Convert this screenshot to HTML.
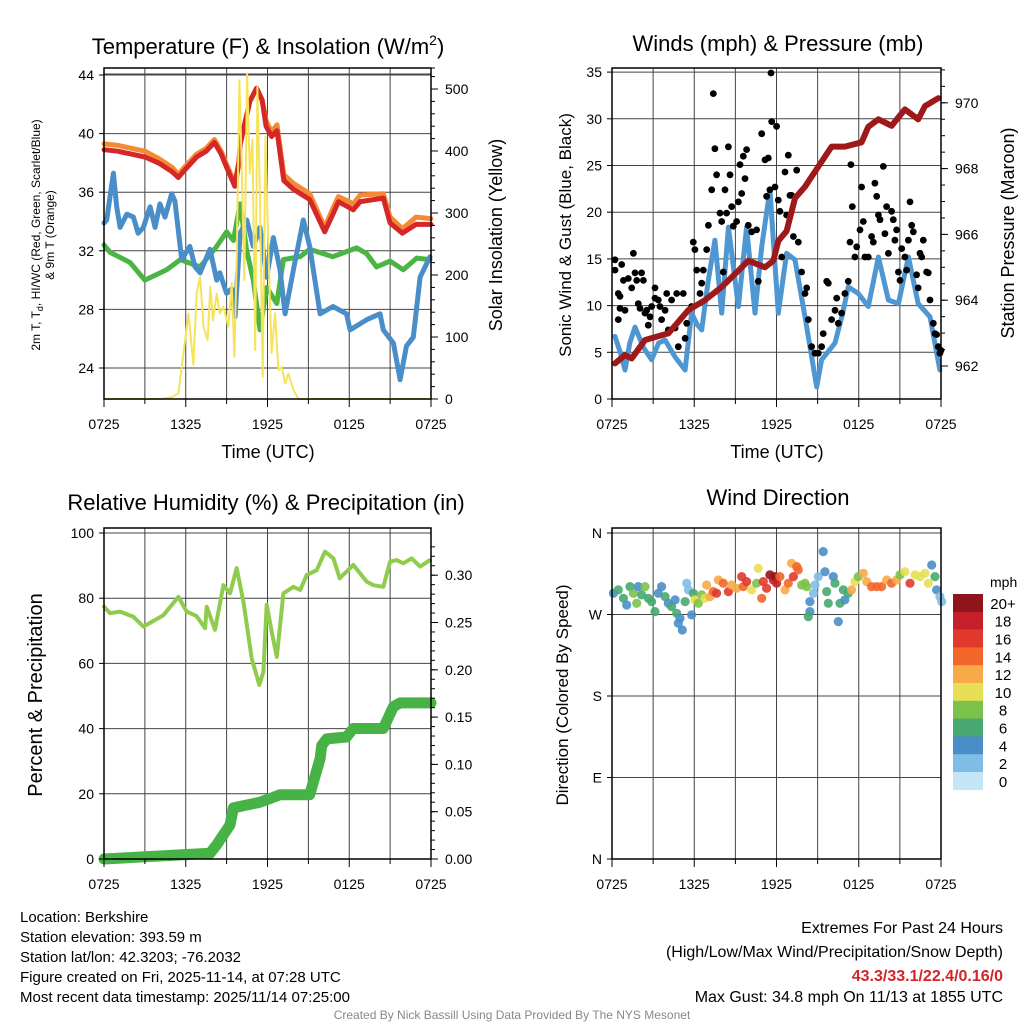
<!DOCTYPE html>
<html><head><meta charset="utf-8"><style>
html,body{margin:0;padding:0;background:#fff;}
svg{display:block;font-family:"Liberation Sans",Arial,sans-serif;}
</style></head><body>
<svg id="chart" xmlns="http://www.w3.org/2000/svg" width="1024" height="1024" viewBox="0 0 1024 1024">
<rect x="0" y="0" width="1024" height="1024" fill="#fff"/>
<g id="grid"></g>
<g id="marks"></g>
<g id="axes"></g>
<!-- Titles -->
<text x="268" y="54" font-size="22" text-anchor="middle">Temperature (F) &amp; Insolation (W/m<tspan font-size="14" dy="-9">2</tspan><tspan dy="9">)</tspan></text>
<text x="778" y="51" font-size="22" text-anchor="middle">Winds (mph) &amp; Pressure (mb)</text>
<text x="266" y="510" font-size="22" text-anchor="middle">Relative Humidity (%) &amp; Precipitation (in)</text>
<text x="778" y="505" font-size="22" text-anchor="middle">Wind Direction</text>
<!-- axis titles -->
<text x="268" y="458" font-size="18" text-anchor="middle">Time (UTC)</text>
<text x="777" y="458" font-size="18" text-anchor="middle">Time (UTC)</text>
<text transform="translate(40,235) rotate(-90)" font-size="12" text-anchor="middle">2m T, T<tspan font-size="9" dy="3">d</tspan><tspan dy="-3">, HI/WC (Red, Green, Scarlet/Blue)</tspan></text>
<text transform="translate(54,235) rotate(-90)" font-size="12" text-anchor="middle">&amp; 9m T (Orange)</text>
<text transform="translate(502,235) rotate(-90)" font-size="18" text-anchor="middle">Solar Insolation (Yellow)</text>
<text transform="translate(571,235) rotate(-90)" font-size="17" text-anchor="middle">Sonic Wind &amp; Gust (Blue, Black)</text>
<text transform="translate(1014,233) rotate(-90)" font-size="18" text-anchor="middle">Station Pressure (Maroon)</text>
<text transform="translate(42,695) rotate(-90)" font-size="20" text-anchor="middle">Percent &amp; Precipitation</text>
<text transform="translate(568,695) rotate(-90)" font-size="17" text-anchor="middle">Direction (Colored By Speed)</text>
<!-- colorbar -->
<g id="colorbar"></g>
<text x="990" y="587" font-size="14">mph</text>
<!-- footer -->
<g font-size="15">
<text x="20" y="922">Location: Berkshire</text>
<text x="20" y="942">Station elevation: 393.59 m</text>
<text x="20" y="962">Station lat/lon: 42.3203; -76.2032</text>
<text x="20" y="982">Figure created on Fri, 2025-11-14, at 07:28 UTC</text>
<text x="20" y="1002">Most recent data timestamp: 2025/11/14 07:25:00</text>
</g>
<g font-size="16" text-anchor="end">
<text x="1003" y="933">Extremes For Past 24 Hours</text>
<text x="1003" y="957">(High/Low/Max Wind/Precipitation/Snow Depth)</text>
<text x="1003" y="981" fill="#d0262b" font-weight="bold">43.3/33.1/22.4/0.16/0</text>
<text x="1003" y="1002">Max Gust: 34.8 mph On 11/13 at 1855 UTC</text>
</g>
<text x="512" y="1019" font-size="12" fill="#888" text-anchor="middle">Created By Nick Bassill Using Data Provided By The NYS Mesonet</text>
</svg>
<script>
// ---------- data ----------
const timeTickLabels = ["0725","1325","1925","0125","0725"];
const tempTicks = [24,28,32,36,40,44];
const solarTicks = [0,100,200,300,400,500];
const windTicks = [0,5,10,15,20,25,30,35];
const pressTicks = [962,964,966,968,970];
const rhTicks = [0,20,40,60,80,100];
const precipTicks = [0,0.05,0.10,0.15,0.20,0.25,0.30];
const dirTicks = [0,90,180,270,360];
const dirTickLabels = ["N","E","S","W","N"];
const speedBins = ["0","2","4","6","8","10","12","14","16","18","20+"];
const speedColors = ["#c4e5f6","#7fbde6","#4a8ec9","#47a870","#7cc24a","#e6df55","#f9aa48","#f2662a","#e13a2c","#c51f29","#90141b"];

const redT = [0,1,2,3,4,5,5.45,6,6.8,7.5,8.1,8.6,9.0,9.6,9.9,10.0,10.7,11.2,11.6,11.9,12.3,12.7,13.2,13.9,15.1,16.2,16.8,17.2,17.9,18.3,18.8,20.5,21.0,21.9,22.9,24];
const redV = [38.9,38.8,38.6,38.4,38.0,37.4,37.0,37.6,38.4,38.8,39.4,38.6,37.7,36.4,38.0,39.3,42.2,43.1,42.3,40.5,39.8,40.2,36.8,36.2,35.5,33.3,34.5,35.35,35.0,34.8,35.35,35.6,33.9,33.2,33.8,33.8];
const orangeV = [39.3,39.2,39.0,38.8,38.3,37.7,37.2,37.8,38.6,39.0,39.6,38.8,37.9,36.6,38.1,39.4,42.2,43.1,42.3,40.9,40.1,40.6,37.2,36.6,35.9,33.6,34.9,35.7,35.4,35.2,35.8,35.9,34.3,33.5,34.3,34.2];
const greenT = [0,0.44,1.91,3.0,4.6,5.6,7.05,8.27,9.0,9.5,9.99,10.47,10.96,11.45,11.94,12.68,13.17,14.4,15.1,16.8,18.55,19.28,20.0,21.0,21.97,22.95,23.93];
const greenV = [32.4,31.9,31.2,30.0,30.7,31.4,30.9,32.3,33.3,32.7,35.2,32.0,30.0,26.6,29.5,28.4,31.4,31.6,32.1,31.6,32.2,31.8,30.9,31.3,30.7,31.5,31.4];
const blueT = [0,0.2,0.69,0.93,1.18,1.67,2.16,2.5,2.89,3.38,3.75,4.1,4.48,4.97,5.2,5.7,6.3,6.68,7.05,7.78,8.27,8.5,9.0,9.37,9.62,9.99,10.47,10.96,11.45,11.94,12.43,12.92,13.29,13.9,14.63,15.1,15.86,16.8,17.8,18.06,19.28,20.26,20.5,21.24,21.73,22.2,22.7,23.2,23.93];
const blueV = [33.9,34.1,37.3,35.0,33.6,34.5,34.3,33.2,33.6,35.0,33.6,35.2,34.3,35.9,35.4,31.4,32.3,30.9,30.5,32.1,30.0,30.5,29.1,29.4,27.5,33.2,34.1,32.3,33.6,30.2,32.9,30.7,27.7,30.7,34.1,32.3,27.7,28.2,27.7,26.6,27.3,27.7,26.6,25.7,23.2,25.5,26.1,30.2,31.6];
const solarT = [0,4.2,5.0,5.46,5.8,6.2,6.56,6.8,7.05,7.3,7.6,7.8,8.0,8.27,8.5,8.76,9.13,9.37,9.57,9.74,9.94,10.1,10.3,10.5,10.7,10.9,11.1,11.26,11.45,11.65,11.85,12.06,12.3,12.55,12.8,13.04,13.3,13.53,13.9,14.27,24];
const solarV = [0,0,3,9,68,138,55,170,197,117,95,181,127,170,138,149,117,187,68,224,514,385,192,525,364,418,79,503,321,36,423,246,74,138,47,52,25,41,15,0,0];

const windT = [0.22,0.6,0.95,1.3,1.68,2.3,2.89,3.4,3.87,4.6,5.33,5.81,6.2,6.54,7.0,7.51,8.0,8.49,9.22,9.82,10.43,10.92,11.52,12.13,12.74,13.35,14.08,14.93,15.29,16.27,16.8,17.24,17.97,18.7,19.43,20.16,20.89,21.62,22.34,23.2,23.92];
const windV = [6.7,5.0,3.1,6.0,7.7,5.5,4.2,6.0,6.3,4.5,3.1,9.2,8.0,7.4,12.5,17.0,9.2,18.4,9.9,18.4,9.2,16.3,22.4,9.2,15.6,14.9,8.8,1.3,4.2,6.0,9.0,12.0,11.3,9.9,15.2,10.6,10.2,15.2,10.2,8.8,3.1];
const pressT = [0.22,0.95,1.44,2.41,4.11,5.57,6.78,8.0,9.22,9.94,11.16,11.77,12.13,12.74,13.35,14.08,15.05,16.02,16.99,18.21,18.7,19.43,20.4,21.37,22.34,22.83,23.8];
const pressV = [962.08,962.33,962.23,962.79,962.99,963.7,964.0,964.4,964.9,965.2,965.0,965.2,965.8,966.1,967.1,967.45,968.06,968.67,968.67,968.8,969.27,969.5,969.3,969.8,969.5,969.9,970.14];
const gustT = [0.22,0.22,0.46,0.58,0.71,0.46,0.58,0.95,0.83,1.19,1.44,1.56,1.68,1.8,1.92,2.04,2.16,2.29,2.41,2.53,2.65,2.77,2.89,3.14,3.14,3.38,3.5,3.62,3.87,3.99,4.11,4.35,4.6,4.72,4.84,5.2,5.33,5.45,5.81,5.93,6.05,6.18,6.42,6.54,6.66,6.91,7.03,7.27,7.39,7.51,7.63,7.88,8.0,8.12,8.24,8.36,8.49,8.61,8.73,8.85,9.09,9.22,9.34,9.46,9.58,9.7,9.82,9.94,10.19,10.55,10.67,10.92,11.16,11.28,11.4,11.52,11.6,11.65,11.89,12.01,12.13,12.25,12.38,12.62,12.74,12.86,12.98,13.1,13.23,13.47,13.59,13.83,14.08,14.2,14.32,14.56,14.81,15.05,15.29,15.41,15.66,15.78,16.02,16.27,16.39,16.51,16.75,16.99,17.24,17.36,17.43,17.53,17.72,17.85,18.09,18.21,18.33,18.45,18.7,18.94,19.06,19.18,19.31,19.43,19.55,19.79,19.91,20.03,20.16,20.4,20.52,20.64,20.76,20.89,21.01,21.13,21.37,21.49,21.62,21.74,21.86,21.98,22.22,22.34,22.47,22.59,22.71,22.95,23.07,23.2,23.44,23.56,23.68,23.8,23.92,24.0];
const gustV = [14.9,13.8,11.3,9.7,14.4,8.5,11.0,9.5,12.7,12.9,11.9,15.6,13.5,12.7,10.2,9.7,13.5,12.7,9.2,9.5,7.9,8.8,9.9,11.9,10.8,10.6,9.9,8.5,9.5,11.3,7.4,10.6,7.6,11.3,5.6,11.3,6.5,8.1,9.9,16.8,16.0,13.8,11.3,12.4,13.8,16.0,18.6,22.4,32.7,26.8,24.0,19.9,19.0,13.6,22.4,19.9,27.0,24.0,20.6,18.5,19.0,21.1,25.1,22.0,26.0,23.6,26.7,18.6,17.9,18.1,12.6,28.4,25.6,21.7,25.8,22.4,34.9,29.7,22.7,29.2,21.3,20.1,15.2,24.3,19.7,26.1,21.8,21.8,17.4,24.5,16.8,13.6,11.3,11.9,8.5,5.6,4.9,4.9,5.6,7.0,12.6,12.4,8.5,9.5,10.8,8.1,9.2,11.3,12.6,16.8,25.1,20.6,15.2,16.3,18.1,22.7,19.0,15.2,15.2,17.4,16.8,23.1,21.7,19.7,19.2,24.9,17.7,20.6,15.6,20.1,19.2,17.0,18.1,13.6,12.7,16.1,15.2,13.8,17.0,21.1,18.6,17.9,13.3,11.9,15.6,15.2,17.0,13.6,13.5,10.6,8.1,7.0,6.9,5.6,4.9,5.2];

const rhT = [0,0.44,1.18,2.16,2.89,4.36,5.46,6.07,6.8,7.42,7.54,8.15,8.76,9.25,9.74,10.23,10.84,11.4,11.7,11.94,12.31,12.68,13.17,13.9,14.4,14.88,15.61,16.22,16.84,17.3,18.3,19.28,19.77,20.5,21.0,21.48,21.97,22.58,23.2,23.93];
const rhV = [77.4,75.4,75.9,74.3,71.3,74.8,80.4,75.9,74.5,70.8,77.4,70.3,84.0,81.5,89.2,79.0,61.5,53.4,57.4,78.0,69.7,62.0,81.5,83.5,82.5,87.1,88.6,94.3,92.2,86.1,90.2,85.1,84.0,83.5,91.2,91.7,90.7,92.2,89.7,91.7];
const precipT = [0,5.09,7.78,8.27,9.25,9.5,11.45,12.2,12.92,15.1,15.86,15.98,16.35,17.8,18.3,20.5,21.24,21.73,24];
const precipV = [0,0.004,0.006,0.015,0.036,0.054,0.060,0.064,0.068,0.068,0.106,0.12,0.127,0.129,0.138,0.138,0.161,0.165,0.165];

const dirT = [0.1,0.46,0.83,1.07,1.31,1.56,1.8,1.92,2.16,2.41,2.65,2.89,3.14,3.38,3.62,3.87,4.11,4.35,4.6,4.72,4.96,4.84,5.13,5.33,5.45,5.57,5.81,5.93,6.05,6.3,6.54,6.78,6.91,7.15,7.39,7.63,7.76,8.12,8.49,8.73,9.09,9.46,9.58,9.82,10.19,10.55,10.67,10.92,11.04,11.28,11.52,11.77,11.89,12.01,12.25,12.62,12.86,13.1,13.23,13.47,13.59,13.83,14.08,14.2,14.44,14.69,14.44,14.32,14.81,15.05,15.41,15.54,15.66,15.78,16.14,16.27,16.51,16.63,16.87,16.99,17.24,17.48,17.72,17.97,18.33,18.58,18.94,19.31,19.67,20.03,20.4,20.76,21.01,21.37,21.74,22.1,22.47,22.83,23.07,23.32,23.56,23.68,23.92,24.05];
const dirV = [293.4,297.1,287.9,280.5,300.8,293.4,282.4,300.8,291.6,300.8,287.9,284.2,273.2,293.4,300.8,289.7,282.4,278.7,286.1,271.3,265.8,260.3,252.9,284.2,304.5,297.1,269.5,293.4,286.1,282.4,291.6,287.9,302.6,289.7,295.3,293.4,308.1,304.5,295.3,302.6,298.9,311.8,300.8,306.3,297.1,304.5,321.0,287.9,306.3,298.9,313.7,308.1,311.8,304.5,311.8,297.1,304.5,326.5,311.8,322.9,319.2,302.6,304.5,300.8,284.2,293.4,273.2,267.6,302.6,311.8,339.4,317.3,295.3,282.4,311.8,304.5,262.1,282.4,297.1,286.1,293.4,297.1,306.3,311.8,315.5,306.3,300.8,300.8,300.8,308.1,304.5,308.1,313.7,317.3,304.5,313.7,311.8,315.5,304.5,324.7,311.8,297.1,289.7,284.2];
const dirSpeed = [4,6,6,4,6,8,8,4,6,8,6,6,6,4,4,6,4,6,4,6,4,4,4,6,2,2,4,6,10,8,8,10,12,12,14,16,12,14,16,12,12,16,14,16,10,8,10,14,16,16,20,18,20,18,14,12,14,12,16,14,14,8,8,8,4,2,4,6,2,2,4,4,6,6,4,6,4,6,6,4,6,12,10,8,12,12,14,14,14,12,14,12,8,10,16,10,10,10,10,4,6,4,2,2];

// ---------- helpers ----------
const NS = "http://www.w3.org/2000/svg";
const gGrid = document.getElementById("grid");
const gMarks = document.getElementById("marks");
const gAxes = document.getElementById("axes");
function mk(tag, attrs, parent){ const e=document.createElementNS(NS,tag); for(const k in attrs) e.setAttribute(k,attrs[k]); parent.appendChild(e); return e; }
const P = {
  p1:{x0:104,x1:431,y0:68,y1:399},
  p2:{x0:612,x1:941,y0:68,y1:399},
  p3:{x0:104,x1:431,y0:528,y1:859},
  p4:{x0:612,x1:941,y0:528,y1:859}
};
function xScale(p,t){ return p.x0 + t/24*(p.x1-p.x0); }
const yTemp = v => 368 - (v-24)*14.65;
const ySolar = v => Math.max(68, 399 - v*0.62);
const yWind = v => 399 - v*9.34;
const yPress = v => 366 - (v-962)*32.9;
const yRH = v => 859 - v*3.26;
const yPrecip = v => 859 - v*946;
const yDir = v => 859 - v*0.9056;

function frame(p, name){
  for(let h=3; h<24; h+=3){
    const x=xScale(p,h);
    const l=mk("line",{x1:x,x2:x,y1:p.y0,y2:p.y1,stroke:"#444","stroke-width":1},gGrid);
    
    
  }
  const r=mk("rect",{x:p.x0,y:p.y0,width:p.x1-p.x0,height:p.y1-p.y0,fill:"none",stroke:"#000","stroke-width":1.5},gAxes);
  
  
  timeTickLabels.forEach((lab,i)=>{
    const x=xScale(p,i*6);
    mk("line",{x1:x,x2:x,y1:p.y1,y2:p.y1+8,stroke:"#000"},gAxes);
    const t=mk("text",{x:x,y:p.y1+30,"font-size":14,"text-anchor":"middle"},gAxes);
    t.textContent=lab;
    
    
  });
  for(let h=3; h<24; h+=6){ const x=xScale(p,h); mk("line",{x1:x,x2:x,y1:p.y1,y2:p.y1+5,stroke:"#000"},gAxes); }
}
function leftAxis(p, ticks, yf, labels, name, grid){
  ticks.forEach((v,i)=>{
    const y=yf(v);
    if(grid) mk("line",{x1:p.x0,x2:p.x1,y1:y,y2:y,stroke:"#444","stroke-width":1},gGrid);
    mk("line",{x1:p.x0-5,x2:p.x0,y1:y,y2:y,stroke:"#000"},gAxes);
    const t=mk("text",{x:p.x0-10,y:y+5,"font-size":14,"text-anchor":"end"},gAxes);
    t.textContent=labels?labels[i]:v;
    
    
  });
}
function rightAxis(p, ticks, yf, fmt, minorStep, name){
  ticks.forEach(v=>{
    const y=yf(v);
    mk("line",{x1:p.x1,x2:p.x1+7,y1:y,y2:y,stroke:"#000"},gAxes);
    const t=mk("text",{x:p.x1+14,y:y+5,"font-size":14},gAxes);
    t.textContent=fmt(v);
    
    
  });
  const lo=ticks[0], hi=ticks[ticks.length-1]+minorStep*3;
  for(let v=lo; v<=hi+1e-9; v+=minorStep){
    const y=yf(v); if(y<p.y0||y>p.y1) continue;
    mk("line",{x1:p.x1,x2:p.x1+4,y1:y,y2:y,stroke:"#000"},gAxes);
  }
}
function line(p, T, V, yf, color, w, name){
  const d=T.map((t,i)=>(i?"L":"M")+xScale(p,t).toFixed(1)+","+yf(V[i]).toFixed(1)).join(" ");
  const e=mk("path",{d:d,fill:"none",stroke:color,"stroke-width":w,"stroke-linejoin":"round","stroke-linecap":"round"},gMarks);
  
  
}

// ---------- panel 1 ----------
frame(P.p1,"p1");
leftAxis(P.p1,tempTicks,yTemp,null,"temp",true);
mk("line",{x1:104,x2:431,y1:74,y2:74,stroke:"#444"},gGrid);
rightAxis(P.p1,solarTicks,ySolar,v=>v,20,"solar");
line(P.p1,greenT,greenV,yTemp,"#4bb543",5,"dewpoint-line");
line(P.p1,blueT,blueV,yTemp,"#4a8ec9",5,"wind-chill-line");
line(P.p1,redT,orangeV,yTemp,"#f58a35",5,"temp-9m-line");
line(P.p1,redT,redV,yTemp,"#d62728",5,"temp-2m-line");
line(P.p1,solarT,solarV,ySolar,"#f7e35a",2,"solar-line");

// ---------- panel 2 ----------
frame(P.p2,"p2");
leftAxis(P.p2,windTicks,yWind,null,"wind",true);
rightAxis(P.p2,pressTicks,yPress,v=>v,0.5,"pressure");
line(P.p2,windT,windV,yWind,"#4f97d3",5,"wind-line");
gustT.forEach((t,i)=>{
  const c=mk("circle",{cx:xScale(P.p2,t).toFixed(1),cy:yWind(gustV[i]).toFixed(1),r:3.4,fill:"#000"},gMarks);
  
  
});
line(P.p2,pressT,pressV,yPress,"#9e1a1a",6,"pressure-line");

// ---------- panel 3 ----------
frame(P.p3,"p3");
leftAxis(P.p3,rhTicks,yRH,null,"rh",true);
rightAxis(P.p3,precipTicks,yPrecip,v=>v.toFixed(2),0.01,"precip");
line(P.p3,rhT,rhV,yRH,"#8fcb4c",4,"rh-line");
line(P.p3,precipT,precipV,yPrecip,"#47b347",11,"precip-line");

// ---------- panel 4 ----------
frame(P.p4,"p4");
leftAxis(P.p4,dirTicks,yDir,dirTickLabels,"direction",true);
function speedColor(s){ return speedColors[Math.min(10,Math.round(s/2))]; }
dirT.forEach((t,i)=>{
  const c=mk("circle",{cx:xScale(P.p4,t).toFixed(1),cy:yDir(dirV[i]).toFixed(1),r:4.6,fill:speedColor(dirSpeed[i]),"fill-opacity":0.9},gMarks);
  
  
});
const cb=document.getElementById("colorbar");
speedBins.forEach((lab,i)=>{
  const k=10-i, h=17.8, y=594+i*h;
  const r=mk("rect",{x:953,y:y,width:30,height:h+0.3,fill:speedColors[k]},cb);
  
  
  const t=mk("text",{x:1003,y:y+h/2+6,"font-size":15,"text-anchor":"middle"},cb);
  t.textContent=speedBins[k];
  
  
});
</script>
</body></html>
